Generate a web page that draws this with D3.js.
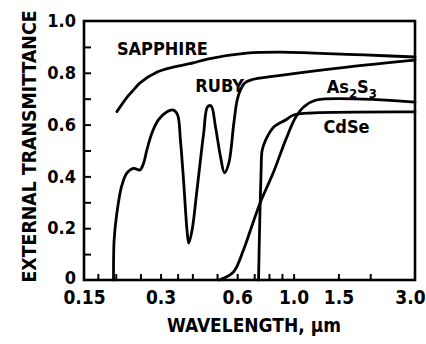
<!DOCTYPE html>
<html>
<head>
<meta charset="utf-8">
<script src="https://cdn.jsdelivr.net/npm/d3@7"></script>
<style>
  html, body { margin: 0; padding: 0; background: #fff; }
  svg { display: block; }
  text {
    font-family: "Liberation Sans Narrow", "DejaVu Sans Condensed", "Arial Narrow", sans-serif;
    font-weight: bold;
    fill: #000;
  }
</style>
</head>
<body>
<svg id="svg" width="426" height="344"></svg>
<script>
// wavelength (um), external transmittance
const sapphire = [
  [0.202, 0.650], [0.222, 0.707], [0.235, 0.734], [0.249, 0.761], [0.291, 0.803],
  [0.337, 0.822], [0.403, 0.838], [0.458, 0.853], [0.653, 0.876],
  [0.889, 0.880], [1.2, 0.876], [1.89, 0.869], [3.0, 0.861]
]
const ruby = [
  [0.196, 0.0], [0.197, 0.154], [0.202, 0.259], [0.211, 0.363], [0.221, 0.413],
  [0.235, 0.431], [0.249, 0.425], [0.257, 0.45], [0.265, 0.502], [0.277, 0.566],
  [0.294, 0.618], [0.318, 0.650], [0.337, 0.656], [0.350, 0.637], [0.359, 0.54],
  [0.370, 0.373], [0.381, 0.193], [0.387, 0.142], [0.399, 0.193], [0.417, 0.347],
  [0.443, 0.566], [0.459, 0.669], [0.474, 0.672], [0.493, 0.592], [0.516, 0.476],
  [0.535, 0.414], [0.556, 0.45], [0.582, 0.605], [0.600, 0.695], [0.618, 0.734],
  [0.641, 0.760], [0.677, 0.772], [0.889, 0.79], [1.62, 0.822], [3.0, 0.849]
]
const as2s3 = [
  [0.51, 0.0], [0.58, 0.031], [0.635, 0.116], [0.677, 0.193], [0.741, 0.301],
  [0.834, 0.417], [0.93, 0.54], [1.02, 0.629], [1.095, 0.668], [1.23, 0.695],
  [3.0, 0.687]
]
const cdse = [
  [0.728, 0.0], [0.735, 0.2], [0.745, 0.42], [0.752, 0.5], [0.776, 0.54],
  [0.834, 0.59], [0.93, 0.618], [1.0, 0.637], [1.2, 0.645], [3.0, 0.649]
]

const xMinorTicks = [0.17, 0.2, 0.25, 0.3, 0.35, 0.4, 0.5, 0.6, 0.7, 0.8, 0.9, 1.0, 1.5, 2.0]
const xLabelTicks = [0.15, 0.3, 0.6, 1.0, 1.5, 3.0]
const yMinorTicks = [0.1, 0.2, 0.3, 0.4, 0.5, 0.6, 0.7, 0.8, 0.9]
const yLabelTicks = [0, 0.2, 0.4, 0.6, 0.8, 1.0]

const curveLabels = [
  { text: 'SAPPHIRE', wl: 0.202, t: 0.869 },
  { text: 'RUBY', wl: 0.411, t: 0.726 },
  { text: 'CdSe', wl: 1.31, t: 0.568 },
]

const width = 426
const height = 344
const margin = { top: 21, right: 11, bottom: 64, left: 84 }
const svg = d3.select('#svg')

const xScale = d3.scaleLog()
  .domain([0.15, 3.0])
  .range([margin.left, width - margin.right])

const yScale = d3.scaleLinear()
  .domain([0, 1.0])
  .range([height - margin.bottom, margin.top])

// frame
svg.append('rect')
  .attr('x', margin.left)
  .attr('y', margin.top)
  .attr('width', width - margin.left - margin.right)
  .attr('height', height - margin.top - margin.bottom)
  .attr('fill', 'none')
  .attr('stroke', '#000')
  .attr('stroke-width', 2.6)

// inward ticks
svg.append('g')
  .attr('transform', `translate(0,${height - margin.bottom})`)
  .call(d3.axisBottom(xScale).tickValues(xMinorTicks).tickSize(-6).tickFormat(''))
  .call((g) => g.select('.domain').remove())
  .call((g) => g.selectAll('line').attr('stroke-width', 2))

svg.append('g')
  .attr('transform', `translate(${margin.left},0)`)
  .call(d3.axisLeft(yScale).tickValues(yMinorTicks).tickSize(-7).tickFormat(''))
  .call((g) => g.select('.domain').remove())
  .call((g) => g.selectAll('line').attr('stroke-width', 2))

// tick labels
svg.append('g')
  .attr('transform', `translate(0,${height - margin.bottom})`)
  .call(d3.axisBottom(xScale).tickValues(xLabelTicks).tickSize(0).tickPadding(11)
    .tickFormat((d) => d === 0.15 ? '0.15' : d3.format('.1f')(d)))
  .call((g) => g.select('.domain').remove())
  .call((g) => g.selectAll('text')
    .attr('font-size', 19)
    .attr('font-family', null)
    .attr('dx', (d) => d === 3.0 ? -5 : 0))

svg.append('g')
  .attr('transform', `translate(${margin.left},0)`)
  .call(d3.axisLeft(yScale).tickValues(yLabelTicks).tickSize(0).tickPadding(8)
    .tickFormat((d) => d === 0 ? '0' : d3.format('.1f')(d)))
  .call((g) => g.select('.domain').remove())
  .call((g) => g.selectAll('text')
    .attr('font-size', 18)
    .attr('font-family', null)
    .attr('dy', (d) => d === 0 ? '0.2em' : '0.32em'))

// axis titles
svg.append('text')
  .attr('transform', `translate(36,${(10 + 283) / 2}) rotate(-90)`)
  .attr('text-anchor', 'middle')
  .attr('font-size', 20)
  .attr('textLength', 272)
  .attr('lengthAdjust', 'spacingAndGlyphs')
  .text('EXTERNAL TRANSMITTANCE')

svg.append('text')
  .attr('x', 167)
  .attr('y', 332)
  .attr('font-size', 20)
  .attr('textLength', 174)
  .attr('lengthAdjust', 'spacingAndGlyphs')
  .text('WAVELENGTH, μm')

// curves
const line = d3.line()
  .x((d) => xScale(d[0]))
  .y((d) => yScale(d[1]))
  .curve(d3.curveCatmullRom.alpha(0.5))

const series = [sapphire, ruby, as2s3, cdse]
svg.append('g')
  .selectAll('path')
  .data(series)
  .join('path')
  .attr('d', line)
  .attr('fill', 'none')
  .attr('stroke', '#000')
  .attr('stroke-width', 2.8)
  .attr('stroke-linejoin', 'round')
  .attr('stroke-linecap', 'round')

// curve labels
svg.append('g')
  .selectAll('text')
  .data(curveLabels)
  .join('text')
  .attr('x', (d) => xScale(d.wl))
  .attr('y', (d) => yScale(d.t))
  .attr('font-size', 18)
  .text((d) => d.text)

const asLabel = svg.append('text')
  .attr('x', xScale(1.35))
  .attr('y', yScale(0.722))
  .attr('font-size', 18)
asLabel.append('tspan').text('As')
asLabel.append('tspan').attr('font-size', 13).attr('dy', 5).text('2')
asLabel.append('tspan').attr('dy', -5).text('S')
asLabel.append('tspan').attr('font-size', 13).attr('dy', 5).text('3')
</script>
</body>
</html>
